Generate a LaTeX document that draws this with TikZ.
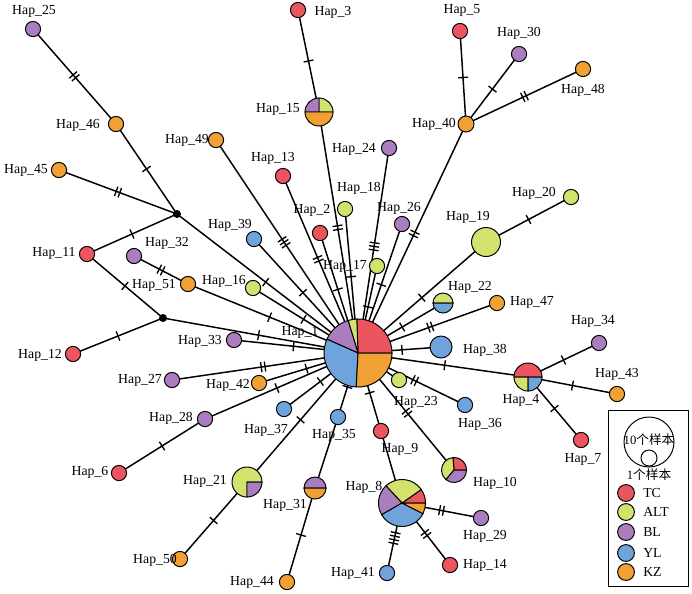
\documentclass[tikz,border=0pt]{standalone}
\usepackage{fontspec}
\setmainfont{Liberation Serif}
\newfontfamily\cjk{Noto Sans CJK SC}
\usetikzlibrary{decorations.markings}
\pgfdeclarelayer{bg}
\pgfsetlayers{bg,main}
\definecolor{cTC}{RGB}{235,85,95}
\definecolor{cALT}{RGB}{210,226,108}
\definecolor{cBL}{RGB}{170,125,190}
\definecolor{cYL}{RGB}{110,163,220}
\definecolor{cKZ}{RGB}{241,160,52}
\newcommand\wedgeat[5]{\filldraw[fill=#5,draw=black,line width=0.7pt] (#1.center) -- ++(#2:#4) arc[start angle=#2,end angle=#3,radius=#4] -- cycle;}
\begin{document}
\begin{tikzpicture}[x=0.25mm,y=0.25mm,
  hap/.style={circle,draw=black,line width=0.7pt,inner sep=0pt,minimum size=3.8mm},
  pienode/.style={circle,inner sep=0pt,minimum size=#1},
  jn/.style={circle,fill=black,inner sep=0pt,minimum size=2mm},
  lab/.style={font=\fontsize{9.8}{11}\selectfont,inner sep=0pt},
  cjklab/.style={font=\fontsize{9}{10}\selectfont,inner sep=0pt},
  edge/.style={line width=1.05pt},
  mka/.style={postaction={decorate,decoration={markings,mark=at position #1 with {\draw[line width=0.95pt] (0,-5)--(0,5);}}}},
  mka/.default=0.5,
  mkb/.style={postaction={decorate,decoration={markings,mark=at position #1 with {\draw[line width=0.95pt] (-1.9,-5)--(-1.9,5) (1.9,-5)--(1.9,5);}}}},
  mkb/.default=0.5,
  mkc/.style={postaction={decorate,decoration={markings,mark=at position #1 with {\draw[line width=0.95pt] (-3.6,-5)--(-3.6,5) (0,-5)--(0,5) (3.6,-5)--(3.6,5);}}}},
  mkc/.default=0.5,
  mkd/.style={postaction={decorate,decoration={markings,mark=at position #1 with {\draw[line width=0.95pt] (-5.4,-5)--(-5.4,5) (-1.8,-5)--(-1.8,5) (1.8,-5)--(1.8,5) (5.4,-5)--(5.4,5);}}}},
  mkd/.default=0.5]
\useasboundingbox (0,0) rectangle (692,-593);

% pie / large nodes
\node[pienode=17mm] (h1) at (358,-353) {};
\node[pienode=7mm] (h15) at (319,-112) {};
\node[pienode=5mm] (h22) at (443,-303) {};
\node[pienode=7mm] (h4) at (528,-377) {};
\node[pienode=6.25mm] (h10) at (454,-470) {};
\node[pienode=11.75mm] (h8) at (402,-503) {};
\node[pienode=5.5mm] (h31) at (315,-488) {};
\node[pienode=7.5mm] (h21) at (247,-482) {};

% single-colour nodes
\node[hap,fill=cBL] (h25) at (33,-29) {};
\node[hap,fill=cKZ] (h46) at (116,-124) {};
\node[hap,fill=cKZ] (h45) at (59,-170) {};
\node[jn] (j1) at (177,-214) {};
\node[hap,fill=cTC] (h11) at (87,-254) {};
\node[jn] (j2) at (163,-318) {};
\node[hap,fill=cTC] (h12) at (73,-354) {};
\node[hap,fill=cBL] (h32) at (134,-256) {};
\node[hap,fill=cKZ] (h51) at (188,-284) {};
\node[hap,fill=cALT] (h16) at (253,-288) {};
\node[hap,fill=cYL] (h39) at (254,-239) {};
\node[hap,fill=cKZ] (h49) at (216,-140) {};
\node[hap,fill=cTC] (h13) at (283,-176) {};
\node[hap,fill=cTC] (h2) at (320,-233) {};
\node[hap,fill=cALT] (h18) at (345,-209) {};
\node[hap,fill=cTC] (h3) at (298,-10) {};
\node[hap,fill=cBL] (h24) at (389,-148) {};
\node[hap,fill=cALT] (h17) at (377,-266) {};
\node[hap,fill=cBL] (h26) at (402,-224) {};
\node[hap,fill=cKZ,minimum size=4mm] (h40) at (466,-124) {};
\node[hap,fill=cTC] (h5) at (460,-31) {};
\node[hap,fill=cBL] (h30) at (519,-54) {};
\node[hap,fill=cKZ] (h48) at (583,-69) {};
\node[hap,fill=cALT,minimum size=7.25mm] (h19) at (486,-242) {};
\node[hap,fill=cALT] (h20) at (571,-197) {};
\node[hap,fill=cKZ] (h47) at (497,-303) {};
\node[hap,fill=cYL,minimum size=5.5mm] (h38) at (441,-347) {};
\node[hap,fill=cBL] (h34) at (599,-343) {};
\node[hap,fill=cKZ] (h43) at (617,-394) {};
\node[hap,fill=cTC] (h7) at (581,-440) {};
\node[hap,fill=cYL] (h36) at (465,-405) {};
\node[hap,fill=cALT] (h23) at (399,-380) {};
\node[hap,fill=cTC] (h9) at (381,-431) {};
\node[hap,fill=cBL] (h29) at (481,-518) {};
\node[hap,fill=cTC] (h14) at (450,-565) {};
\node[hap,fill=cYL] (h41) at (387,-573) {};
\node[hap,fill=cYL] (h35) at (338,-417) {};
\node[hap,fill=cKZ] (h44) at (287,-582) {};
\node[hap,fill=cYL] (h37) at (284,-409) {};
\node[hap,fill=cKZ] (h50) at (180,-559) {};
\node[hap,fill=cBL] (h28) at (205,-419) {};
\node[hap,fill=cTC] (h6) at (119,-473) {};
\node[hap,fill=cKZ] (h42) at (259,-383) {};
\node[hap,fill=cBL] (h27) at (172,-380) {};
\node[hap,fill=cBL] (h33) at (234,-340) {};

% pies
\wedgeat{h1}{0}{92}{8.5mm}{cTC}
\wedgeat{h1}{92}{107}{8.5mm}{cALT}
\wedgeat{h1}{107}{156}{8.5mm}{cBL}
\wedgeat{h1}{156}{267}{8.5mm}{cYL}
\wedgeat{h1}{267}{360}{8.5mm}{cKZ}
\wedgeat{h15}{0}{90}{3.5mm}{cALT}
\wedgeat{h15}{90}{180}{3.5mm}{cBL}
\wedgeat{h15}{180}{360}{3.5mm}{cKZ}
\wedgeat{h22}{0}{180}{2.5mm}{cALT}
\wedgeat{h22}{180}{360}{2.5mm}{cYL}
\wedgeat{h4}{0}{180}{3.5mm}{cTC}
\wedgeat{h4}{180}{270}{3.5mm}{cALT}
\wedgeat{h4}{270}{360}{3.5mm}{cYL}
\wedgeat{h10}{0}{95}{3.125mm}{cTC}
\wedgeat{h10}{95}{230}{3.125mm}{cALT}
\wedgeat{h10}{230}{360}{3.125mm}{cBL}
\wedgeat{h8}{0}{35}{5.875mm}{cTC}
\wedgeat{h8}{35}{133}{5.875mm}{cALT}
\wedgeat{h8}{133}{210}{5.875mm}{cBL}
\wedgeat{h8}{210}{333}{5.875mm}{cYL}
\wedgeat{h8}{333}{360}{5.875mm}{cKZ}
\wedgeat{h31}{0}{180}{2.75mm}{cBL}
\wedgeat{h31}{180}{360}{2.75mm}{cKZ}
\wedgeat{h21}{0}{270}{3.75mm}{cALT}
\wedgeat{h21}{270}{360}{3.75mm}{cBL}

% edges
\begin{pgfonlayer}{bg}
\fill[white] (0,0) rectangle (692,-593);
\node[lab] (l1) at (300,-332) {Hap\_1};
\draw[edge,mkc=0.52] (h1.center) -- (h49.center);
\draw[edge,mka=0.51] (h1.center) -- (j1.center);
\draw[edge,mka=0.53] (h1.center) -- (h39.center);
\draw[edge,mka=0.52] (h1.center) -- (h16.center);
\draw[edge,mka=0.52] (h1.center) -- (h51.center);
\draw[edge,mka=0.51] (h1.center) -- (j2.center);
\draw[edge,mka=0.52] (h1.center) -- (h33.center);
\draw[edge,mkb=0.51] (h1.center) -- (h27.center);
\draw[edge,mka=0.52] (h1.center) -- (h42.center);
\draw[edge,mka=0.53] (h1.center) -- (h28.center);
\draw[edge,mka=0.51] (h1.center) -- (h37.center);
\draw[edge,mka=0.52] (h1.center) -- (h21.center);
\draw[edge,mka=0.53] (h1.center) -- (h35.center);
\draw[edge,mka=0.51] (h1.center) -- (h9.center);
\draw[edge,mkb=0.51] (h1.center) -- (h10.center);
\draw[edge,mkb=0.53] (h1.center) -- (h36.center);
\draw[edge] (h1.center) -- (h23.center);
\draw[edge,mka=0.51] (h1.center) -- (h4.center);
\draw[edge,mka=0.53] (h1.center) -- (h38.center);
\draw[edge,mkb=0.52] (h1.center) -- (h47.center);
\draw[edge,mka=0.52] (h1.center) -- (h22.center);
\draw[edge,mka=0.5] (h1.center) -- (h19.center);
\draw[edge,mkb=0.52] (h1.center) -- (h40.center);
\draw[edge,mka=0.53] (h1.center) -- (h26.center);
\draw[edge,mka=0.53] (h1.center) -- (h17.center);
\draw[edge,mkc=0.52] (h1.center) -- (h24.center);
\draw[edge,mkb=0.52] (h1.center) -- (h15.center);
\draw[edge,mka=0.53] (h1.center) -- (h18.center);
\draw[edge,mka=0.53] (h1.center) -- (h2.center);
\draw[edge,mkb=0.53] (h1.center) -- (h13.center);
\draw[edge,mka] (h15.center) -- (h3.center);
\draw[edge,mkb] (h25.center) -- (h46.center);
\draw[edge,mka] (h46.center) -- (j1.center);
\draw[edge,mkb] (h45.center) -- (j1.center);
\draw[edge,mka] (h11.center) -- (j1.center);
\draw[edge,mka] (h11.center) -- (j2.center);
\draw[edge,mka] (j2.center) -- (h12.center);
\draw[edge,mkb] (h32.center) -- (h51.center);
\draw[edge,mka] (h28.center) -- (h6.center);
\draw[edge,mka] (h21.center) -- (h50.center);
\draw[edge] (h35.center) -- (h31.center);
\draw[edge,mka] (h31.center) -- (h44.center);
\draw[edge] (h9.center) -- (h8.center);
\draw[edge,mkd] (h8.center) -- (h41.center);
\draw[edge,mkb] (h8.center) -- (h14.center);
\draw[edge,mkb] (h8.center) -- (h29.center);
\draw[edge,mka] (h40.center) -- (h5.center);
\draw[edge,mka] (h40.center) -- (h30.center);
\draw[edge,mkb] (h40.center) -- (h48.center);
\draw[edge,mka] (h19.center) -- (h20.center);
\draw[edge,mka] (h4.center) -- (h34.center);
\draw[edge,mka] (h4.center) -- (h43.center);
\draw[edge,mka] (h4.center) -- (h7.center);
\end{pgfonlayer}

% labels
\node[lab] (l2) at (312,-210) {Hap\_2};
\node[lab] (l3) at (333,-12) {Hap\_3};
\node[lab] (l4) at (521,-400) {Hap\_4};
\node[lab] (l5) at (462,-10) {Hap\_5};
\node[lab] (l6) at (90,-472) {Hap\_6};
\node[lab] (l7) at (583,-459) {Hap\_7};
\node[lab] (l8) at (364,-487) {Hap\_8};
\node[lab] (l9) at (400,-449) {Hap\_9};
\node[lab] (l10) at (495,-483) {Hap\_10};
\node[lab] (l11) at (54,-253) {Hap\_11};
\node[lab] (l12) at (40,-355) {Hap\_12};
\node[lab] (l13) at (273,-158) {Hap\_13};
\node[lab] (l14) at (485,-565) {Hap\_14};
\node[lab] (l15) at (278,-109) {Hap\_15};
\node[lab] (l16) at (224,-281) {Hap\_16};
\node[lab] (l17) at (345,-266) {Hap\_17};
\node[lab] (l18) at (359,-188) {Hap\_18};
\node[lab] (l19) at (468,-217) {Hap\_19};
\node[lab] (l20) at (534,-193) {Hap\_20};
\node[lab] (l21) at (205,-481) {Hap\_21};
\node[lab] (l22) at (470,-287) {Hap\_22};
\node[lab] (l23) at (416,-402) {Hap\_23};
\node[lab] (l24) at (354,-149) {Hap\_24};
\node[lab] (l25) at (34,-11) {Hap\_25};
\node[lab] (l26) at (399,-208) {Hap\_26};
\node[lab] (l27) at (140,-380) {Hap\_27};
\node[lab] (l28) at (171,-418) {Hap\_28};
\node[lab] (l29) at (485,-536) {Hap\_29};
\node[lab] (l30) at (519,-33) {Hap\_30};
\node[lab] (l31) at (285,-505) {Hap\_31};
\node[lab] (l32) at (167,-243) {Hap\_32};
\node[lab] (l33) at (200,-341) {Hap\_33};
\node[lab] (l34) at (593,-321) {Hap\_34};
\node[lab] (l35) at (334,-435) {Hap\_35};
\node[lab] (l36) at (480,-424) {Hap\_36};
\node[lab] (l37) at (266,-430) {Hap\_37};
\node[lab] (l38) at (485,-350) {Hap\_38};
\node[lab] (l39) at (230,-225) {Hap\_39};
\node[lab] (l40) at (434,-124) {Hap\_40};
\node[lab] (l41) at (353,-573) {Hap\_41};
\node[lab] (l42) at (228,-385) {Hap\_42};
\node[lab] (l43) at (617,-374) {Hap\_43};
\node[lab] (l44) at (252,-582) {Hap\_44};
\node[lab] (l45) at (26,-170) {Hap\_45};
\node[lab] (l46) at (78,-125) {Hap\_46};
\node[lab] (l47) at (532,-302) {Hap\_47};
\node[lab] (l48) at (583,-90) {Hap\_48};
\node[lab] (l49) at (187,-140) {Hap\_49};
\node[lab] (l50) at (155,-560) {Hap\_50};
\node[lab] (l51) at (154,-285) {Hap\_51};

% legend
\node[draw=black,line width=0.7pt,inner sep=0pt,minimum width=20mm,minimum height=44mm] (lg) at (648,-498) {};
\node[circle,draw=black,line width=0.7pt,inner sep=0pt,minimum size=12.5mm] (lbig) at (649,-442) {};
\node[circle,draw=black,fill=white,line width=0.7pt,inner sep=0pt,minimum size=4mm] (lsmall) at (649,-458) {};
\node[cjklab] (t10) at (649,-440) {10{\cjk 个样本}};
\node[cjklab] (t1) at (649,-475) {1{\cjk 个样本}};
\node[hap,fill=cTC,minimum size=4.2mm] (kTC) at (626,-493) {};
\node[hap,fill=cALT,minimum size=4.2mm] (kALT) at (626,-512) {};
\node[hap,fill=cBL,minimum size=4.2mm] (kBL) at (626,-532) {};
\node[hap,fill=cYL,minimum size=4.2mm] (kYL) at (626,-553) {};
\node[hap,fill=cKZ,minimum size=4.2mm] (kKZ) at (626,-572) {};
\node[lab,anchor=west] (xTC) at (643,-493) {TC};
\node[lab,anchor=west] (xALT) at (643,-512) {ALT};
\node[lab,anchor=west] (xBL) at (643,-532) {BL};
\node[lab,anchor=west] (xYL) at (643,-553) {YL};
\node[lab,anchor=west] (xKZ) at (643,-572) {KZ};
\end{tikzpicture}
\end{document}
